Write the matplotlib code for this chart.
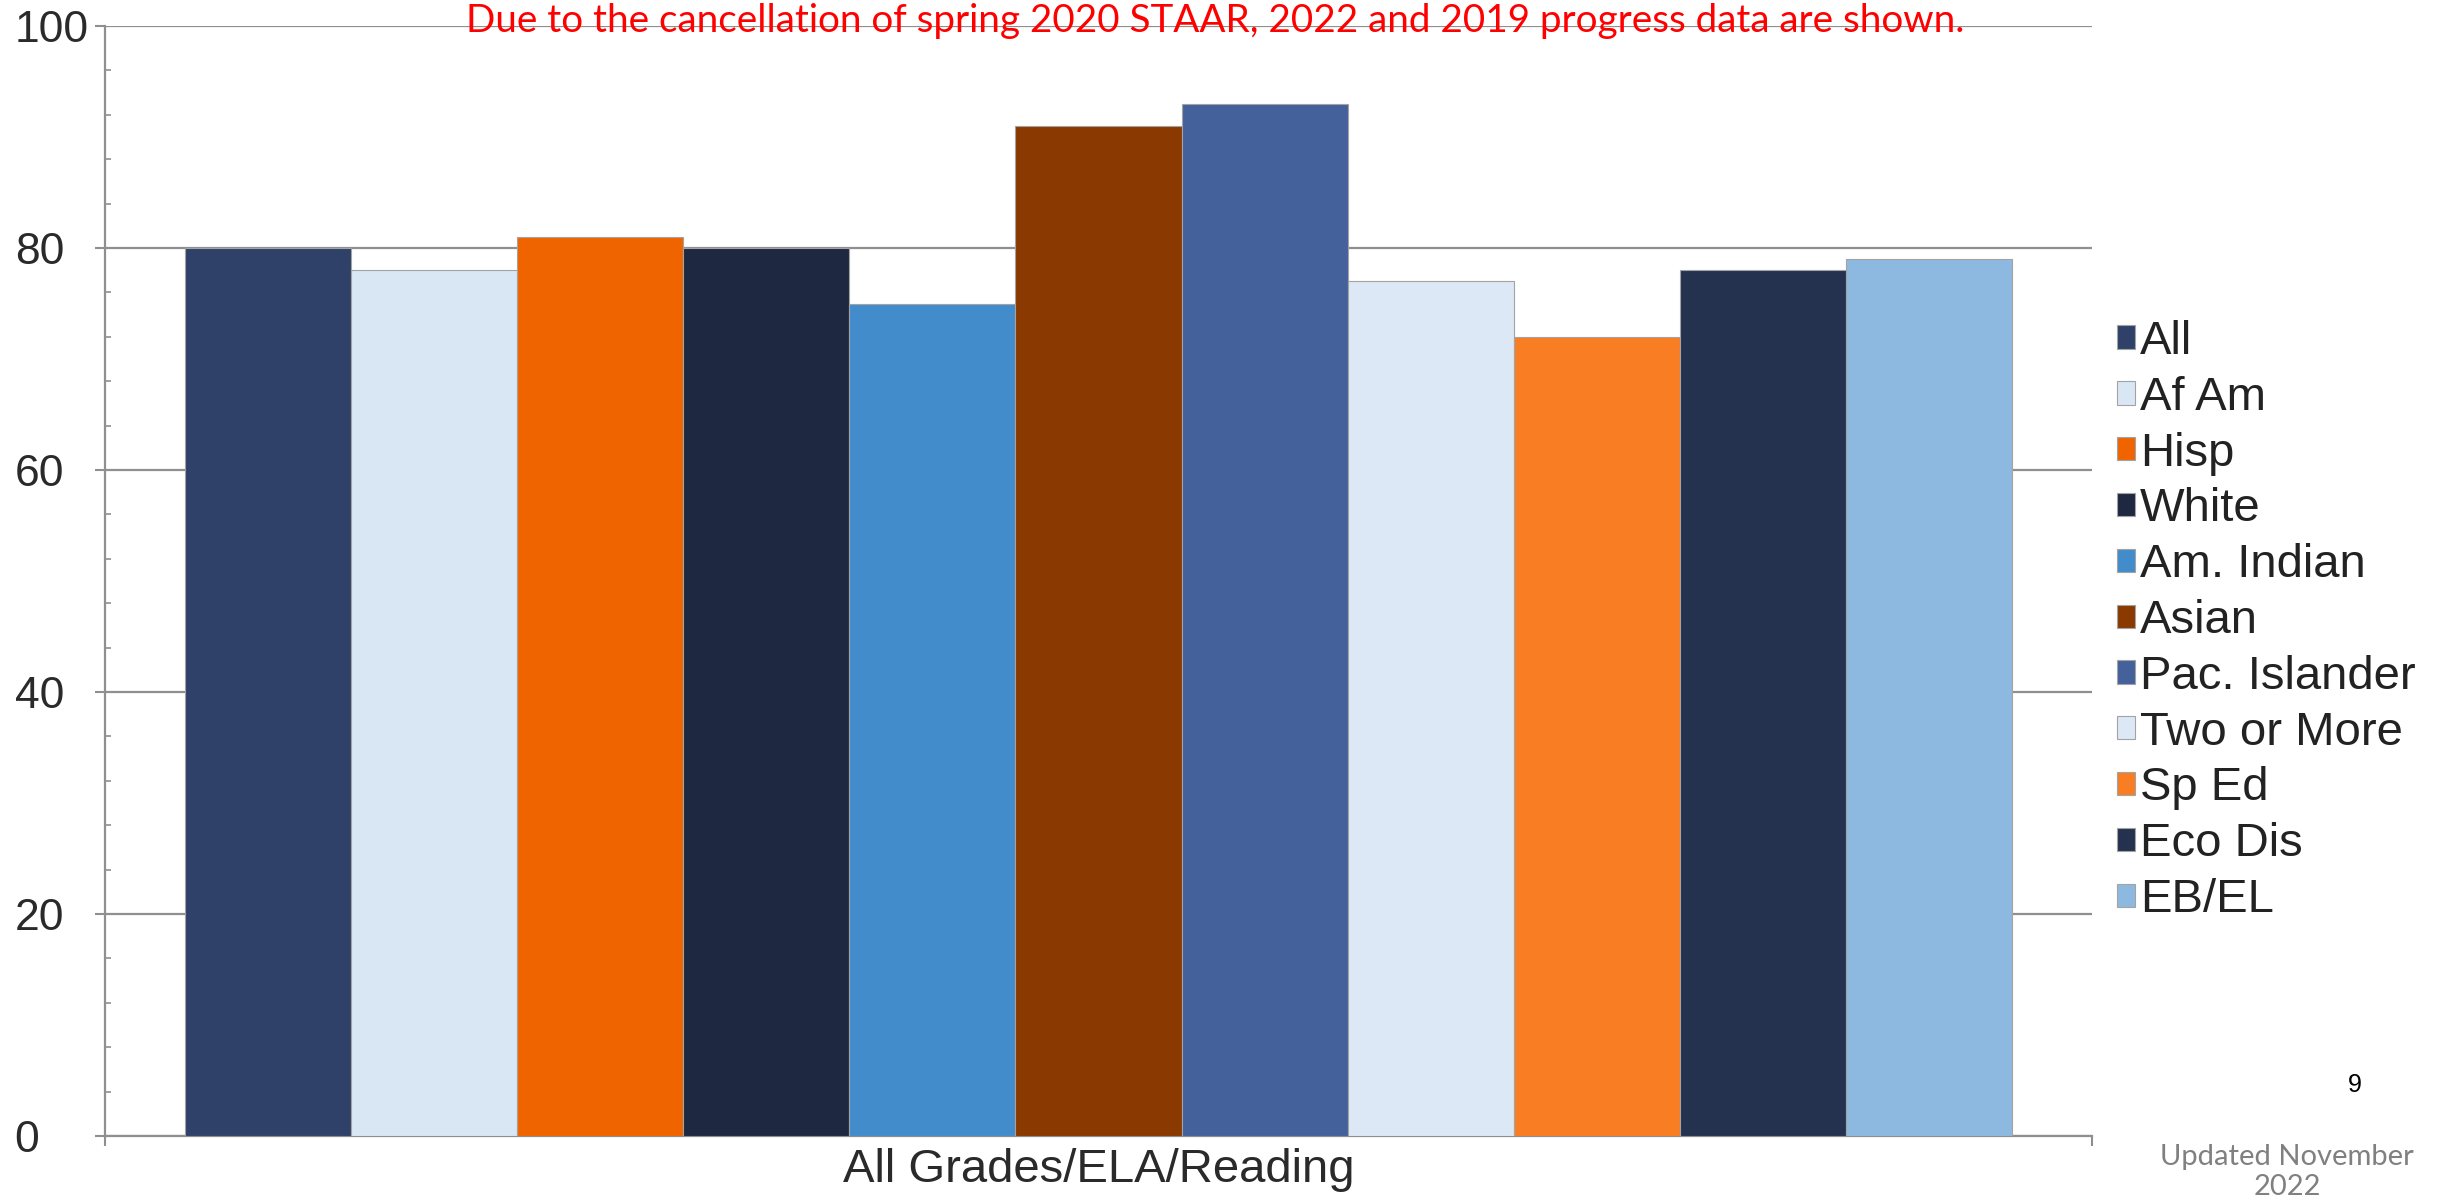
import matplotlib
matplotlib.use("Agg")
import matplotlib.pyplot as plt
from matplotlib import font_manager
from matplotlib.ticker import MultipleLocator
import numpy as np

# data
groups = ["All", "Af Am", "Hisp", "White", "Am. Indian", "Asian",
          "Pac. Islander", "Two or More", "Sp Ed", "Eco Dis", "EB/EL"]
values = [80, 78, 81, 80, 75, 91, 93, 77, 72, 78, 79]
colors = ["#2F4168", "#D9E6F4", "#F06400", "#1E2840", "#428CCB", "#8A3A00",
          "#44619C", "#DCE8F5", "#F97D22", "#243250", "#8DB9E0"]
category = ["All Grades/ELA/Reading"]
y_ticks = [0, 20, 40, 60, 80, 100]

title = "Due to the cancellation of spring 2020 STAAR, 2022 and 2019 progress data are shown."
footer = "Updated November\n2022"
page_no = "9"

installed = {f.name for f in font_manager.fontManager.ttflist}
title_font = "Liberation Sans Narrow" if "Liberation Sans Narrow" in installed else "Lato"

W, H = 2451, 1202
fig = plt.figure(figsize=(W / 100, H / 100), dpi=100)
ax = fig.add_axes([105 / W, 1 - 1136 / H, (2092 - 105) / W, (1136 - 26) / H])

n = len(groups)
bw = 0.919 / n
x = (np.arange(n) - (n - 1) / 2) * bw
bars = []
for i in range(n):
    b = ax.bar(x[i], values[i], width=bw, color=colors[i], edgecolor="#a3a3a3",
               linewidth=0.8, label=groups[i], zorder=3)
    bars.append(b)

ax.set_xlim(-0.5, 0.5)
ax.set_ylim(0, 100)

grid_col = "#8f8f8f"
ax.set_yticks(y_ticks)
ax.yaxis.set_minor_locator(MultipleLocator(4))
ax.yaxis.grid(True, which="major", color=grid_col, linewidth=1.6, zorder=0)
ax.set_axisbelow(True)
for s in ["top", "right"]:
    ax.spines[s].set_visible(False)
for s in ["left", "bottom"]:
    ax.spines[s].set_color(grid_col)
    ax.spines[s].set_linewidth(1.6)

ax.tick_params(axis="y", which="major", direction="out", length=7, width=1.5,
               color=grid_col, labelsize=32, labelcolor="#2a2a2a", pad=58)
ax.tick_params(axis="y", which="minor", direction="in", length=4, width=1.2,
               color=grid_col)
for lab in ax.get_yticklabels():
    lab.set_horizontalalignment("left")
    lab.set_fontfamily("Liberation Sans")

# category axis: edge ticks, label at the centre
ax.set_xticks([-0.5, 0.5])
ax.set_xticklabels(["", ""])
ax.tick_params(axis="x", which="major", direction="out", length=7, width=1.5,
               color=grid_col)
ax.set_xticks([0], minor=True)
ax.set_xticklabels(category, minor=True, fontsize=34, color="#2a2a2a",
                   fontfamily="Liberation Sans")
ax.tick_params(axis="x", which="minor", length=0, pad=9)

leg = fig.legend(handles=bars, labels=groups, loc="upper left",
                 bbox_to_anchor=(2117 / W, 1 - 320 / H), frameon=False,
                 prop={"family": "Liberation Sans", "size": 34},
                 handlelength=0.38, handleheight=0.38, handletextpad=0.1,
                 labelspacing=0.25, borderpad=0, borderaxespad=0)
for t in leg.get_texts():
    t.set_color("#222222")

# red note across the top, fitted to the width it has on the slide
t = fig.text(1215 / W, 1 - 32 / H, title, color="#FF0000", ha="center",
             va="baseline", fontsize=30, fontfamily=title_font)
fig.canvas.draw()
wpx = t.get_window_extent(renderer=fig.canvas.get_renderer()).width
t.set_fontsize(30 * 1493 / wpx)

fig.text(2355 / W, 1 - 1085 / H, page_no, ha="center", va="center",
         fontsize=18, fontfamily="Liberation Sans", color="black")
fig.text(2287 / W, 1 - 1200 / H, footer, ha="center", va="bottom",
         fontsize=21, fontfamily="Lato", color="#808080", linespacing=1.2)

fig.savefig("out.png", dpi=100)
